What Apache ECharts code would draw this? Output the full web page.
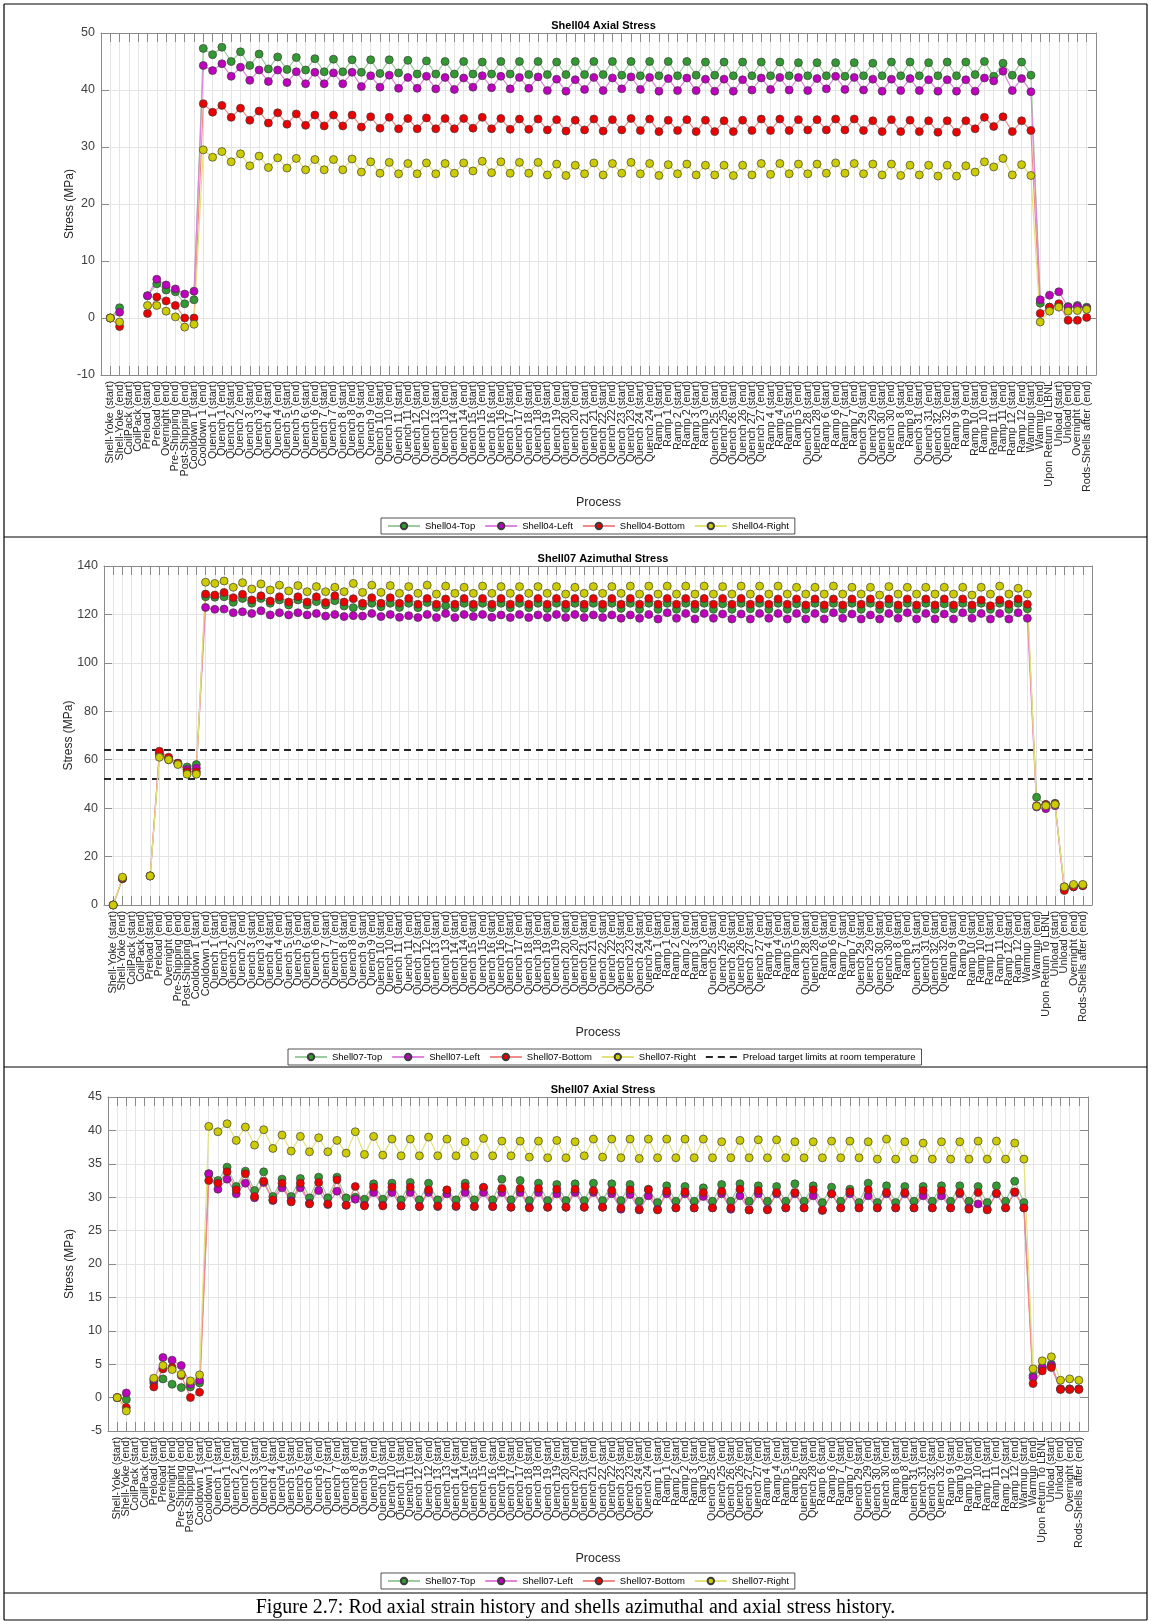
<!DOCTYPE html>
<html>
<head>
<meta charset="utf-8">
<title>Shell stress history</title>
<script src="https://cdn.jsdelivr.net/npm/echarts/dist/echarts.min.js"></script>
<style>
  html, body { margin: 0; padding: 0; background: #ffffff; }
  #chart { width: 1151px; height: 1621px; }
</style>
</head>
<body>
<div id="chart"></div>
<script>
// Process steps shared by the three panels (x axis, one tick each)
const CATEGORIES = [
  'Shell-Yoke (start)', 'Shell-Yoke (end)', 'CoilPack (start)', 'CoilPack (end)',
  'Preload (start)', 'Preload (end)', 'Overnight (end)', 'Pre-Shipping (end)',
  'Post-Shipping (end)', 'Cooldown 1 (start)', 'Cooldown 1 (end)',
  'Quench 1 (start)', 'Quench 1 (end)', 'Quench 2 (start)', 'Quench 2 (end)',
  'Quench 3 (start)', 'Quench 3 (end)', 'Quench 4 (start)', 'Quench 4 (end)',
  'Quench 5 (start)', 'Quench 5 (end)', 'Quench 6 (start)', 'Quench 6 (end)',
  'Quench 7 (start)', 'Quench 7 (end)', 'Quench 8 (start)', 'Quench 8 (end)',
  'Quench 9 (start)', 'Quench 9 (end)', 'Quench 10 (start)', 'Quench 10 (end)',
  'Quench 11 (start)', 'Quench 11 (end)', 'Quench 12 (start)', 'Quench 12 (end)',
  'Quench 13 (start)', 'Quench 13 (end)', 'Quench 14 (start)', 'Quench 14 (end)',
  'Quench 15 (start)', 'Quench 15 (end)', 'Quench 16 (start)', 'Quench 16 (end)',
  'Quench 17 (start)', 'Quench 17 (end)', 'Quench 18 (start)', 'Quench 18 (end)',
  'Quench 19 (start)', 'Quench 19 (end)', 'Quench 20 (start)', 'Quench 20 (end)',
  'Quench 21 (start)', 'Quench 21 (end)', 'Quench 22 (start)', 'Quench 22 (end)',
  'Quench 23 (start)', 'Quench 23 (end)', 'Quench 24 (start)', 'Quench 24 (end)',
  'Ramp 1 (start)', 'Ramp 1 (end)', 'Ramp 2 (start)', 'Ramp 2 (end)',
  'Ramp 3 (start)', 'Ramp 3 (end)',
  'Quench 25 (start)', 'Quench 25 (end)', 'Quench 26 (start)', 'Quench 26 (end)',
  'Quench 27 (start)', 'Quench 27 (end)',
  'Ramp 4 (start)', 'Ramp 4 (end)', 'Ramp 5 (start)', 'Ramp 5 (end)',
  'Quench 28 (start)', 'Quench 28 (end)',
  'Ramp 6 (start)', 'Ramp 6 (end)', 'Ramp 7 (start)', 'Ramp 7 (end)',
  'Quench 29 (start)', 'Quench 29 (end)', 'Quench 30 (start)', 'Quench 30 (end)',
  'Ramp 8 (start)', 'Ramp 8 (end)',
  'Quench 31 (start)', 'Quench 31 (end)', 'Quench 32 (start)', 'Quench 32 (end)',
  'Ramp 9 (start)', 'Ramp 9 (end)', 'Ramp 10 (start)', 'Ramp 10 (end)',
  'Ramp 11 (start)', 'Ramp 11 (end)', 'Ramp 12 (start)', 'Ramp 12 (end)',
  'Warmup (start)', 'Warmup (end)', 'Upon Return To LBNL',
  'Unload (start)', 'Unload (end)', 'Overnight (end)', 'Rods-Shells after (end)'
];

// Shell04 axial stress (MPa)
const S04_TOP = [
  0, 1.8, null, null, 3.9, 6.0, 4.9, 4.6, 2.5, 3.2,
  47.3, 46.2, 47.5, 45.0, 46.7, 44.3, 46.3, 43.7, 45.8, 43.6,
  45.7, 43.5, 45.5, 43.2, 45.4, 43.2, 45.3, 43.1, 45.3, 42.9,
  45.3, 43.0, 45.2, 42.8, 45.1, 42.8, 45.0, 42.8, 45.0, 42.8,
  44.9, 42.8, 45.0, 42.8, 45.0, 42.7, 45.0, 42.7, 44.9, 42.7,
  45.0, 42.7, 45.0, 42.7, 45.0, 42.6, 45.0, 42.5, 45.0, 42.5,
  45.0, 42.5, 45.0, 42.6, 44.9, 42.6, 44.9, 42.5, 44.9, 42.5,
  44.9, 42.5, 44.9, 42.5, 44.8, 42.5, 44.8, 42.5, 44.8, 42.4,
  44.8, 42.5, 44.7, 42.5, 44.9, 42.5, 44.9, 42.5, 44.8, 42.5,
  44.9, 42.5, 44.9, 42.7, 45.0, 42.4, 44.7, 42.6, 44.9, 42.6,
  2.6, 1.9, 2.2, 2.0, 2.2, 1.9
];
const S04_LEFT = [
  0, 1.0, null, null, 3.9, 6.8, 5.8, 5.1, 4.2, 4.7,
  44.3, 43.4, 44.6, 42.4, 44.0, 41.7, 43.5, 41.5, 43.5, 41.3,
  43.2, 41.1, 43.1, 41.1, 43.0, 41.1, 43.1, 40.6, 42.5, 40.5,
  42.6, 40.3, 42.2, 40.3, 42.4, 40.2, 42.2, 40.1, 42.1, 40.5,
  42.5, 40.4, 42.4, 40.2, 42.2, 40.3, 42.3, 39.9, 41.9, 39.8,
  41.8, 40.1, 42.2, 39.9, 42.1, 40.2, 42.3, 40.1, 42.2, 39.8,
  42.0, 39.9, 42.1, 39.9, 41.9, 39.8, 41.9, 39.8, 41.8, 40.0,
  42.1, 40.1, 42.2, 40.0, 42.2, 39.9, 42.0, 40.2, 42.4, 40.1,
  42.2, 40.0, 41.9, 39.8, 41.9, 39.9, 42.0, 39.9, 41.8, 39.8,
  41.8, 39.8, 41.8, 39.8, 42.1, 41.6, 43.3, 39.9, 42.0, 39.7,
  3.2, 4.0, 4.6, 1.9, 2.0, 1.7
];
const S04_BOTTOM = [
  0, -1.5, null, null, 0.8, 3.7, 3.0, 2.2, 0.0, 0.0,
  37.6, 36.1, 37.3, 35.2, 36.8, 34.7, 36.3, 34.2, 36.0, 34.0,
  35.8, 33.8, 35.6, 33.7, 35.6, 33.7, 35.6, 33.5, 35.3, 33.3,
  35.2, 33.2, 35.0, 33.2, 35.1, 33.2, 35.0, 33.2, 35.0, 33.3,
  35.2, 33.2, 35.0, 33.1, 34.9, 33.1, 34.9, 33.0, 34.8, 32.8,
  34.7, 33.0, 34.9, 32.8, 34.8, 33.0, 35.0, 32.9, 34.9, 32.7,
  34.7, 32.9, 34.8, 32.7, 34.7, 32.7, 34.6, 32.7, 34.7, 32.9,
  34.9, 32.9, 34.9, 32.9, 34.8, 33.0, 34.8, 33.0, 34.9, 33.0,
  34.9, 32.9, 34.6, 32.7, 34.8, 32.7, 34.7, 32.7, 34.6, 32.6,
  34.6, 32.6, 34.6, 33.2, 35.2, 33.6, 35.3, 32.7, 34.6, 32.9,
  0.8, 1.9, 2.5, -0.4, -0.4, 0.1
];
const S04_RIGHT = [
  0, -0.7, null, null, 2.2, 2.2, 1.2, 0.2, -1.6, -1.1,
  29.5, 28.2, 29.2, 27.4, 28.8, 26.7, 28.4, 26.4, 28.1, 26.3,
  28.0, 26.0, 27.8, 26.0, 27.8, 26.0, 27.9, 25.6, 27.4, 25.4,
  27.3, 25.3, 27.1, 25.3, 27.2, 25.3, 27.1, 25.4, 27.2, 25.8,
  27.5, 25.5, 27.4, 25.4, 27.3, 25.4, 27.3, 25.1, 27.0, 25.0,
  26.8, 25.3, 27.2, 25.1, 27.1, 25.4, 27.3, 25.3, 27.1, 25.0,
  26.9, 25.3, 27.0, 25.1, 26.8, 25.1, 26.8, 25.0, 26.8, 25.1,
  27.1, 25.2, 27.1, 25.3, 27.0, 25.3, 27.0, 25.4, 27.2, 25.4,
  27.1, 25.3, 27.0, 25.1, 27.0, 25.0, 26.8, 25.1, 26.8, 24.9,
  26.8, 24.9, 26.7, 25.6, 27.4, 26.5, 28.0, 25.1, 26.9, 25.0,
  -0.7, 1.2, 1.9, 1.2, 1.3, 1.5
];

// Shell07 azimuthal stress (MPa)
const S07_AZ_TOP = [
  0, 10.8, null, null, 12.0, 62.0, 60.0, 58.5, 57.0, 58.0,
  127.3, 127.1, 127.3, 125.0, 126.6, 124.6, 126.6, 124.6, 126.0, 123.9,
  126.0, 123.9, 125.3, 123.9, 125.7, 123.5, 122.8, 123.5, 124.6, 123.2,
  124.6, 122.9, 124.6, 122.8, 124.9, 122.9, 123.6, 122.8, 124.6, 122.8,
  124.6, 122.8, 124.6, 122.8, 124.6, 122.8, 124.6, 122.5, 124.6, 122.5,
  124.6, 122.5, 124.6, 122.5, 124.6, 122.5, 124.6, 122.1, 124.6, 122.1,
  124.6, 122.1, 124.6, 122.3, 124.6, 122.1, 124.4, 122.1, 124.6, 122.3,
  124.6, 122.1, 124.6, 122.1, 124.4, 122.1, 124.6, 122.3, 124.6, 122.1,
  124.6, 122.1, 124.6, 122.1, 124.4, 122.1, 124.6, 122.1, 124.6, 122.1,
  124.4, 122.3, 124.6, 122.1, 124.6, 122.1, 124.6, 122.1, 124.6, 122.3,
  44.5, 41.5, 42.0, 7.5, 8.0, 8.2
];
const S07_AZ_LEFT = [
  0, 11.0, null, null, 12.0, 62.5, 60.5, 58.5, 56.0, 56.5,
  122.9, 122.1, 122.2, 120.7, 121.1, 120.4, 121.5, 119.8, 120.7, 119.8,
  120.7, 119.8, 120.4, 119.3, 120.0, 119.1, 119.5, 119.3, 120.4, 119.1,
  120.0, 118.8, 119.5, 118.7, 120.0, 118.7, 120.4, 118.7, 120.0, 119.1,
  120.0, 118.8, 119.8, 118.7, 120.0, 118.7, 119.8, 118.7, 120.0, 118.7,
  120.0, 118.7, 119.8, 118.7, 119.8, 118.4, 119.8, 118.4, 120.0, 118.1,
  120.7, 118.4, 120.4, 118.1, 120.4, 118.4, 120.2, 118.1, 120.2, 118.1,
  120.4, 118.4, 120.4, 118.1, 120.4, 118.1, 120.4, 118.1, 120.7, 118.4,
  120.2, 118.1, 119.8, 118.1, 120.4, 118.4, 120.7, 118.1, 120.4, 118.1,
  120.2, 118.1, 120.7, 118.4, 120.4, 118.1, 120.4, 118.1, 120.7, 118.4,
  40.5, 39.8, 41.0, 6.5, 7.5, 8.0
];
const S07_AZ_BOTTOM = [
  0, 11.0, null, null, 12.0, 63.5, 61.0, 58.5, 55.0, 55.0,
  128.4, 128.0, 129.1, 126.9, 128.3, 126.0, 127.7, 125.5, 127.3, 125.1,
  127.3, 125.1, 127.3, 124.9, 127.7, 125.1, 126.5, 124.6, 126.9, 124.6,
  126.9, 124.6, 126.6, 124.2, 126.6, 124.2, 126.4, 124.2, 126.6, 124.2,
  126.6, 124.2, 126.6, 124.2, 126.6, 124.2, 126.6, 124.2, 126.6, 124.2,
  126.6, 124.2, 126.6, 124.2, 126.6, 124.2, 126.6, 124.2, 126.6, 124.2,
  126.6, 124.2, 126.6, 124.2, 126.6, 124.2, 126.6, 124.2, 126.6, 124.2,
  126.4, 124.2, 126.4, 124.2, 126.4, 123.9, 126.4, 123.9, 126.4, 123.9,
  126.4, 124.2, 126.4, 123.9, 126.4, 123.9, 126.4, 123.9, 126.4, 123.9,
  126.4, 123.9, 126.4, 123.9, 126.0, 123.6, 126.0, 124.2, 126.4, 124.2,
  41.0, 41.5, 41.8, 6.0, 7.5, 8.0
];
const S07_AZ_RIGHT = [
  0, 11.5, null, null, 12.0, 61.0, 60.0, 58.0, 54.0, 54.0,
  133.3, 132.8, 133.8, 131.2, 133.1, 130.5, 132.6, 130.1, 132.1, 129.7,
  131.9, 129.4, 131.5, 129.4, 131.2, 129.4, 132.8, 129.1, 132.1, 129.1,
  131.9, 128.7, 131.5, 128.7, 132.1, 128.4, 131.7, 128.7, 131.2, 128.7,
  131.7, 128.7, 131.5, 128.7, 131.5, 128.7, 131.5, 128.7, 131.5, 128.4,
  131.2, 128.7, 131.5, 128.7, 131.5, 128.7, 131.7, 128.4, 131.7, 128.4,
  131.7, 128.4, 131.7, 128.4, 131.7, 128.4, 131.5, 128.4, 131.7, 128.4,
  131.7, 128.4, 131.7, 128.4, 131.2, 128.4, 131.2, 128.4, 131.7, 128.4,
  131.2, 128.4, 131.2, 128.0, 131.5, 128.4, 131.2, 128.4, 131.2, 128.4,
  131.2, 128.4, 131.2, 128.0, 131.2, 128.4, 131.7, 128.4, 130.8, 128.4,
  40.8, 41.0, 41.5, 7.5, 8.5, 8.5
];
// Preload target limits at room temperature (MPa)
const PRELOAD_LIMITS = [52, 64];

// Shell07 axial stress (MPa)
const S07_AX_TOP = [
  0, -0.3, null, null, 2.2, 2.8, 2.0, 1.5, 1.6, 2.2,
  33.5, 32.5, 34.5, 31.6, 33.9, 31.0, 33.8, 30.1, 32.7, 30.1,
  32.8, 29.9, 33.0, 29.9, 33.0, 29.9, 30.0, 29.7, 32.0, 29.7,
  32.1, 29.6, 32.2, 29.6, 32.1, 29.6, 31.0, 29.6, 32.1, 29.6,
  31.4, 29.6, 32.7, 29.6, 32.5, 29.5, 32.1, 29.5, 31.9, 29.5,
  32.0, 29.5, 32.1, 29.5, 32.0, 29.5, 31.9, 29.4, 31.2, 29.2,
  31.7, 29.4, 31.6, 29.4, 31.4, 29.4, 31.9, 29.4, 32.0, 29.4,
  31.7, 29.4, 31.6, 29.4, 32.0, 29.4, 31.7, 29.2, 31.5, 29.4,
  31.2, 29.2, 32.1, 29.2, 31.7, 29.2, 31.6, 29.4, 31.6, 29.4,
  31.7, 29.4, 31.7, 29.4, 31.6, 29.2, 31.7, 29.4, 32.4, 29.2,
  3.3, 4.5, 5.0, 1.3, 1.3, 1.3
];
const S07_AX_LEFT = [
  0, 0.7, null, null, 2.6, 6.0, 5.6, 4.8, 2.0, 2.6,
  33.5, 31.2, 32.7, 30.5, 32.1, 29.9, 32.2, 29.5, 31.4, 29.5,
  31.4, 29.1, 31.0, 28.9, 30.9, 28.8, 29.7, 28.8, 30.7, 28.8,
  30.7, 28.7, 30.7, 28.6, 30.7, 28.6, 30.5, 28.6, 30.7, 28.6,
  30.7, 28.6, 30.7, 28.5, 30.7, 28.5, 30.7, 28.5, 30.5, 28.5,
  30.7, 28.5, 30.7, 28.5, 30.5, 28.2, 30.4, 28.1, 30.2, 28.2,
  30.5, 28.4, 30.5, 28.4, 30.1, 28.4, 30.5, 28.2, 30.2, 28.1,
  30.5, 28.2, 30.5, 28.4, 30.5, 28.4, 30.2, 28.0, 30.5, 28.4,
  30.5, 28.4, 30.2, 28.4, 30.5, 28.4, 30.5, 28.4, 30.2, 28.4,
  30.2, 28.4, 30.5, 28.4, 29.0, 28.2, 30.5, 28.4, 30.7, 28.4,
  3.0, 4.5, 4.8, 1.3, 1.3, 1.3
];
const S07_AX_BOTTOM = [
  0, -1.5, null, null, 1.6, 4.3, 4.5, 3.3, 0.0, 0.8,
  32.5, 32.1, 33.8, 31.1, 33.5, 30.1, 32.4, 29.6, 32.1, 29.3,
  32.1, 29.0, 32.2, 29.0, 32.6, 28.8, 31.6, 28.7, 31.5, 28.7,
  31.5, 28.7, 31.5, 28.6, 31.1, 28.7, 31.1, 28.7, 31.6, 28.6,
  31.5, 28.6, 31.3, 28.5, 31.3, 28.4, 31.3, 28.5, 31.2, 28.5,
  31.2, 28.5, 31.0, 28.5, 31.0, 28.4, 31.1, 28.2, 31.1, 28.1,
  30.9, 28.4, 30.8, 28.4, 30.7, 28.4, 30.9, 28.4, 31.2, 28.1,
  31.0, 28.1, 30.7, 28.4, 30.7, 28.4, 31.1, 28.1, 30.5, 28.4,
  30.8, 28.4, 31.1, 28.4, 30.7, 28.4, 30.7, 28.4, 31.0, 28.4,
  31.0, 28.4, 30.7, 28.2, 30.7, 28.1, 30.6, 28.4, 30.8, 28.4,
  2.1, 4.0, 4.5, 1.2, 1.2, 1.2
];
const S07_AX_RIGHT = [
  0, -2.0, null, null, 2.9, 4.8, 4.2, 3.5, 2.5, 3.4,
  40.6, 39.8, 41.0, 38.5, 40.5, 37.8, 40.1, 37.3, 39.3, 36.9,
  39.1, 36.8, 38.9, 36.8, 38.5, 36.6, 39.8, 36.4, 39.1, 36.3,
  38.7, 36.2, 38.7, 36.2, 39.0, 36.2, 38.7, 36.2, 38.3, 36.2,
  38.8, 36.2, 38.4, 36.2, 38.4, 36.0, 38.4, 35.9, 38.5, 35.9,
  38.3, 36.2, 38.7, 36.0, 38.7, 35.9, 38.7, 35.8, 38.7, 35.9,
  38.7, 35.9, 38.7, 35.9, 38.7, 35.9, 38.3, 35.9, 38.5, 35.9,
  38.6, 35.9, 38.6, 35.9, 38.3, 35.9, 38.3, 35.9, 38.4, 35.9,
  38.4, 35.9, 38.3, 35.7, 38.7, 35.7, 38.3, 35.7, 38.1, 35.7,
  38.3, 35.7, 38.3, 35.7, 38.4, 35.7, 38.4, 35.7, 38.1, 35.7,
  4.3, 5.5, 6.1, 2.6, 2.8, 2.6
];

// Marker fill per shell position
const POSITION_COLORS = { Top: '#339933', Left: '#bf00bf', Bottom: '#ee0000', Right: '#cccc00' };
const LINE_COLORS = { Top: '#9ccc9c', Left: '#df85df', Bottom: '#f28a8a', Right: '#e3e37a' };

const FONT = '"Liberation Sans", Arial, Helvetica, sans-serif';
const TEXT_COLOR = '#262626';
const AXIS_COLOR = '#8a8a8a';
const GRID_COLOR = '#e4e4e4';
const X_MAX = CATEGORIES.length + 1;

const panels = [
  {
    title: 'Shell04 Axial Stress',
    shell: 'Shell04',
    values: { Top: S04_TOP, Left: S04_LEFT, Bottom: S04_BOTTOM, Right: S04_RIGHT },
    y: { min: -10, max: 50, interval: 10 },
    grid: { left: 101, top: 33, width: 995, height: 342 },
    nameGap: 25,
    legend: { top: 518, left: 381 },
    limits: null
  },
  {
    title: 'Shell07 Azimuthal Stress',
    shell: 'Shell07',
    values: { Top: S07_AZ_TOP, Left: S07_AZ_LEFT, Bottom: S07_AZ_BOTTOM, Right: S07_AZ_RIGHT },
    y: { min: 0, max: 140, interval: 20 },
    grid: { left: 104, top: 566, width: 988, height: 339 },
    nameGap: 29,
    legend: { top: 1049, left: 288 },
    limits: PRELOAD_LIMITS
  },
  {
    title: 'Shell07 Axial Stress',
    shell: 'Shell07',
    values: { Top: S07_AX_TOP, Left: S07_AX_LEFT, Bottom: S07_AX_BOTTOM, Right: S07_AX_RIGHT },
    y: { min: -5, max: 45, interval: 5 },
    grid: { left: 108, top: 1097, width: 980, height: 334 },
    nameGap: 32,
    legend: { top: 1573, left: 381 },
    limits: null
  }
];

const option = {
  animation: false,
  backgroundColor: '#ffffff',
  textStyle: { fontFamily: FONT, color: TEXT_COLOR },
  title: [], grid: [], xAxis: [], yAxis: [], series: [], legend: [], graphic: []
};

panels.forEach((p, i) => {
  const g = p.grid;
  option.grid.push({ left: g.left, top: g.top, width: g.width, height: g.height, show: false, containLabel: false });
  option.title.push({
    text: p.title,
    left: g.left + g.width / 2,
    top: g.top - 18,
    textAlign: 'center',
    textStyle: { fontFamily: FONT, fontSize: 11, fontWeight: 'bold', color: '#000' }
  });

  // bottom axis with process labels, plus a plain mirrored top edge
  option.xAxis.push({
    gridIndex: i, type: 'value', min: 0, max: X_MAX, interval: 1, position: 'bottom',
    name: 'Process', nameLocation: 'middle', nameGap: 119,
    nameTextStyle: { fontFamily: FONT, fontSize: 12.5, color: TEXT_COLOR },
    axisLine: { show: true, onZero: false, lineStyle: { color: AXIS_COLOR, width: 1 } },
    axisTick: { show: true, inside: true, length: 9, lineStyle: { color: AXIS_COLOR } },
    axisLabel: {
      show: true, rotate: 90, margin: 6, fontSize: 10.8, color: TEXT_COLOR, fontFamily: FONT,
      formatter: v => (v >= 1 && v <= CATEGORIES.length) ? CATEGORIES[v - 1] : ''
    },
    splitLine: { show: true, lineStyle: { color: GRID_COLOR, width: 1 } }
  });
  option.xAxis.push({
    gridIndex: i, type: 'value', min: 0, max: X_MAX, interval: 1, position: 'top',
    axisLine: { show: true, onZero: false, lineStyle: { color: AXIS_COLOR, width: 1 } },
    axisTick: { show: true, inside: true, length: 9, lineStyle: { color: AXIS_COLOR } },
    axisLabel: { show: false }, splitLine: { show: false }
  });

  option.yAxis.push({
    gridIndex: i, type: 'value', min: p.y.min, max: p.y.max, interval: p.y.interval, position: 'left',
    name: 'Stress (MPa)', nameLocation: 'middle', nameGap: p.nameGap, nameRotate: 90,
    nameMoveOverlap: false,
    nameTextStyle: { fontFamily: FONT, fontSize: 12, color: TEXT_COLOR },
    axisLine: { show: true, onZero: false, lineStyle: { color: AXIS_COLOR, width: 1 } },
    axisTick: { show: true, inside: true, length: 8, lineStyle: { color: AXIS_COLOR } },
    axisLabel: { show: true, fontSize: 12.5, color: '#404040', margin: 6, fontFamily: FONT },
    splitLine: { show: true, lineStyle: { color: GRID_COLOR, width: 1 } }
  });
  option.yAxis.push({
    gridIndex: i, type: 'value', min: p.y.min, max: p.y.max, interval: p.y.interval, position: 'right',
    axisLine: { show: true, onZero: false, lineStyle: { color: AXIS_COLOR, width: 1 } },
    axisTick: { show: true, inside: true, length: 8, lineStyle: { color: AXIS_COLOR } },
    axisLabel: { show: false }, splitLine: { show: false }
  });

  const names = [];
  ['Top', 'Left', 'Bottom', 'Right'].forEach(pos => {
    const name = p.shell + '-' + pos;
    names.push(name);
    option.series.push({
      name, type: 'line', xAxisIndex: 2 * i, yAxisIndex: 2 * i,
      data: p.values[pos].map((v, k) => [k + 1, v === null ? '-' : v]),
      connectNulls: false,
      symbol: 'circle', symbolSize: 8,
      itemStyle: { color: POSITION_COLORS[pos], borderColor: '#3d3d3d', borderWidth: 0.7 },
      lineStyle: { color: LINE_COLORS[pos], width: 1.2 },
      emphasis: { disabled: true }
    });
  });

  if (p.limits) {
    const limitName = 'Preload target limits at room temperature';
    names.push(limitName);
    p.limits.forEach(lim => {
      option.series.push({
        name: limitName, type: 'line', xAxisIndex: 2 * i, yAxisIndex: 2 * i,
        data: [[0, lim], [X_MAX, lim]],
        symbol: 'none', z: 1,
        lineStyle: { color: '#262626', width: 2, type: [7, 5] },
        itemStyle: { color: 'rgba(0,0,0,0)', borderWidth: 0 },
        emphasis: { disabled: true }
      });
    });
  }

  option.legend.push({
    data: names, left: p.legend.left, top: p.legend.top,
    orient: 'horizontal', itemGap: 9, itemWidth: 32, itemHeight: 8,
    padding: [3, 6, 3, 6], borderColor: '#262626', borderWidth: 0.8, borderRadius: 0,
    backgroundColor: '#ffffff', selectedMode: false,
    textStyle: { fontFamily: FONT, fontSize: 9.5, color: '#000' }
  });
});

// table frame around the three panels and the caption
const frame = [
  [4, 4, 1147, 4], [4, 4, 4, 1620], [1147, 4, 1147, 1620],
  [4, 537, 1147, 537], [4, 1067, 1147, 1067], [4, 1593, 1147, 1593], [4, 1620, 1147, 1620]
];
frame.forEach(([x1, y1, x2, y2]) => {
  option.graphic.push({
    type: 'line', silent: true,
    shape: { x1, y1, x2, y2 },
    style: { stroke: '#000', lineWidth: 1.2 }
  });
});
option.graphic.push({
  type: 'text', silent: true, left: 'center', top: 1598,
  style: {
    text: 'Figure 2.7: Rod axial strain history and shells azimuthal and axial stress history.',
    font: '20px "Liberation Serif", "Times New Roman", serif', fill: '#000'
  }
});

const chart = echarts.init(document.getElementById('chart'), null, { renderer: 'canvas' });
chart.setOption(option);
</script>
</body>
</html>
